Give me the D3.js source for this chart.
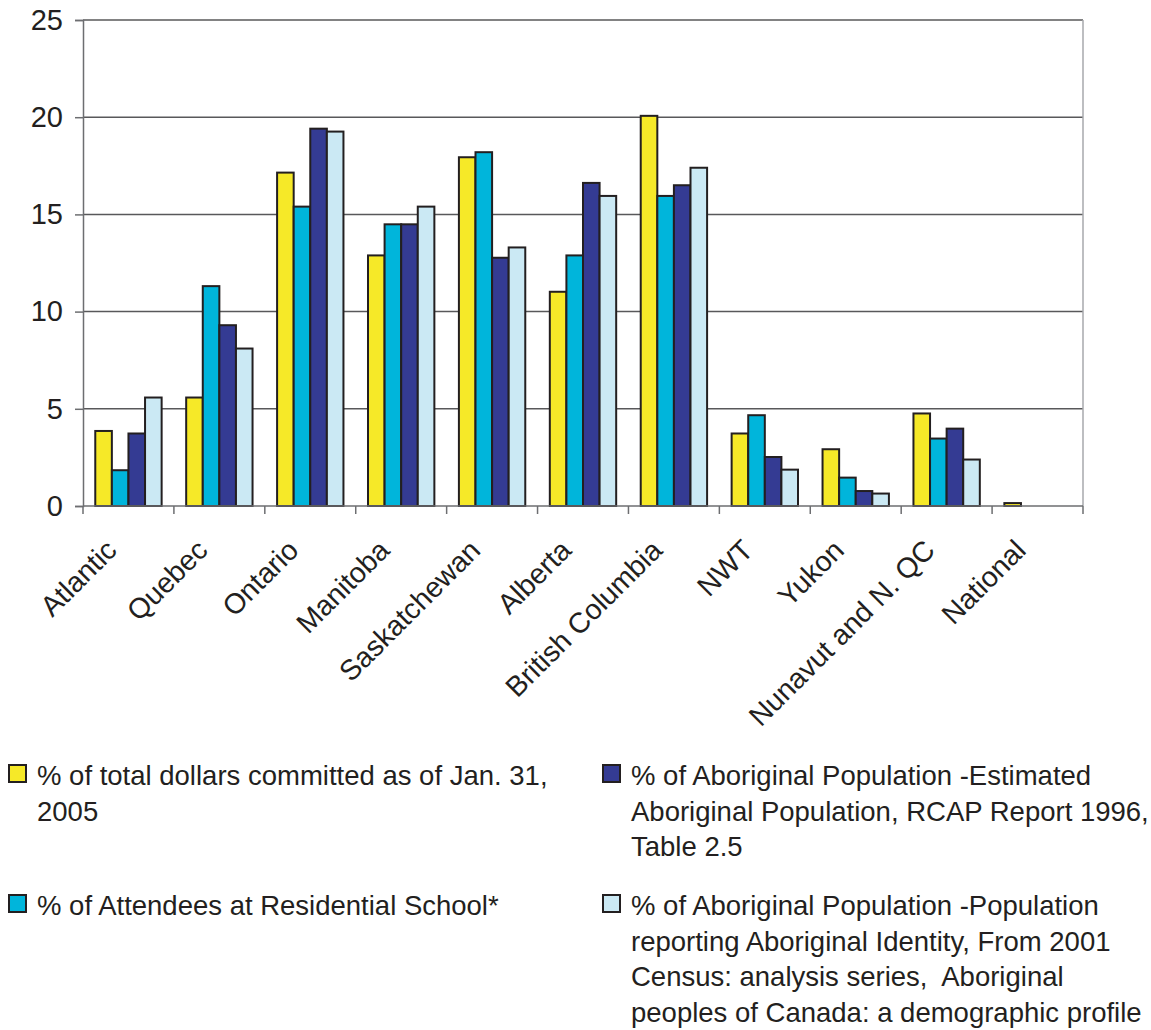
<!DOCTYPE html>
<html>
<head>
<meta charset="utf-8">
<script src="https://cdn.jsdelivr.net/npm/d3@7"></script>
<style>
  body { margin: 0; background: #fff; }
  text { font-family: "Liberation Sans", Arial, sans-serif; fill: #231f20; }
</style>
</head>
<body>
<div id="chart"></div>
<script>
// regions along the x axis
var categories = ["Atlantic", "Quebec", "Ontario", "Manitoba", "Saskatchewan", "Alberta",
    "British Columbia", "NWT", "Yukon", "Nunavut and N. QC", "National"];

// series values (percent)
var dollarsCommitted = [3.86, 5.58, 17.15, 12.89, 17.94, 11.02, 20.07, 3.73, 2.92, 4.76, 0.15];
var schoolAttendees  = [1.84, 11.31, 15.40, 14.49, 18.2, 12.89, 15.95, 4.67, 1.46, 3.47, 0];
var rcapPopulation   = [3.73, 9.30, 19.41, 14.49, 12.77, 16.62, 16.5, 2.52, 0.77, 3.98, 0];
var censusPopulation = [5.58, 8.10, 19.26, 15.40, 13.3, 15.95, 17.4, 1.87, 0.64, 2.39, 0];

var yTicks = [0, 5, 10, 15, 20, 25];

// legend text, split in lines as in the original
var legendDollars = ["% of total dollars committed as of Jan. 31,", "2005"];
var legendAttendees = ["% of Attendees at Residential School*"];
var legendRcap = ["% of Aboriginal Population -Estimated", "Aboriginal Population, RCAP Report 1996,", "Table 2.5"];
var legendCensus = ["% of Aboriginal Population -Population", "reporting Aboriginal Identity, From 2001",
    "Census: analysis series,  Aboriginal", "peoples of Canada: a demographic profile"];

var colors = ["#f6e928", "#00b5db", "#343b93", "#cbe9f4"];

var series = [dollarsCommitted, schoolAttendees, rcapPopulation, censusPopulation];

var width = 1151, height = 1030;
var plot = {left: 83, right: 1083, top: 20, bottom: 506};

var svg = d3.select("#chart").append("svg")
    .attr("width", width)
    .attr("height", height);

var x0 = d3.scaleBand()
    .domain(categories)
    .range([plot.left, plot.right]);

var groupWidth = x0.bandwidth() * 0.73;
var x1 = d3.scaleBand()
    .domain(d3.range(series.length))
    .range([0, groupWidth]);

var yScale = d3.scaleLinear()
    .domain([0, 25])
    .range([plot.bottom, plot.top]);

// gridlines
svg.append("g").selectAll("line")
    .data(yTicks.filter(d => d > 0))
    .enter().append("line")
    .attr("x1", plot.left).attr("x2", plot.right)
    .attr("y1", d => yScale(d)).attr("y2", d => yScale(d))
    .style("stroke", "#58585a")
    .style("stroke-width", 1.5);

// right border of the plot
svg.append("line")
    .attr("x1", plot.right).attr("x2", plot.right)
    .attr("y1", plot.top).attr("y2", plot.bottom)
    .style("stroke", "#a7a9ac").style("stroke-width", 1.5);

// bars
var flat = [];
categories.forEach(function(c, i){
    series.forEach(function(s, j){
        if (s[i] > 0) flat.push({cat: c, s: j, v: s[i]});
    });
});

svg.append("g").selectAll("rect")
    .data(flat)
    .enter().append("rect")
    .attr("x", d => x0(d.cat) + (x0.bandwidth() - groupWidth) / 2 + x1(d.s))
    .attr("y", d => yScale(d.v))
    .attr("width", x1.bandwidth())
    .attr("height", d => yScale(0) - yScale(d.v))
    .style("fill", d => colors[d.s])
    .style("stroke", "#231f20")
    .style("stroke-width", 2);

// y axis
var yAxis = svg.append("g")
    .attr("transform", "translate(" + plot.left + ",0)")
    .call(d3.axisLeft(yScale).tickValues(yTicks).tickSize(8).tickPadding(12));
yAxis.select(".domain").style("stroke", "#6d6e71").style("stroke-width", 1.5);
yAxis.selectAll(".tick line").style("stroke", "#6d6e71").style("stroke-width", 1.5);
yAxis.selectAll(".tick text")
    .style("font-size", "29px")
    .style("font-family", "Liberation Sans, Arial, sans-serif")
    .attr("fill", "#231f20");

// x axis line and ticks between categories
var xAxisG = svg.append("g");
xAxisG.append("line")
    .attr("x1", plot.left).attr("x2", plot.right)
    .attr("y1", plot.bottom).attr("y2", plot.bottom)
    .style("stroke", "#6d6e71").style("stroke-width", 1.5);
xAxisG.selectAll(".xtick")
    .data(categories.concat(["end"]))
    .enter().append("line")
    .attr("class", "xtick")
    .attr("x1", (d, i) => i < categories.length ? x0(d) : plot.right)
    .attr("x2", (d, i) => i < categories.length ? x0(d) : plot.right)
    .attr("y1", plot.bottom).attr("y2", plot.bottom + 8)
    .style("stroke", "#6d6e71").style("stroke-width", 1.5);

// rotated category labels
xAxisG.selectAll(".xlabel")
    .data(categories)
    .enter().append("text")
    .attr("class", "xlabel")
    .attr("text-anchor", "end")
    .style("font-size", "28.5px")
    .attr("transform", d => "translate(" + (x0(d) + x0.bandwidth() / 2 - 10) + "," + (plot.bottom + 46) + ") rotate(-45)")
    .text(d => d);

// legend
var legendItems = [
    {lines: legendDollars, color: colors[0], x: 9, y: 765},
    {lines: legendAttendees, color: colors[1], x: 9, y: 895},
    {lines: legendRcap, color: colors[2], x: 603, y: 765},
    {lines: legendCensus, color: colors[3], x: 603, y: 895}
];

var legend = svg.append("g").selectAll("g")
    .data(legendItems)
    .enter().append("g")
    .attr("transform", d => "translate(" + d.x + "," + d.y + ")");

legend.append("rect")
    .attr("x", 0).attr("y", 0)
    .attr("width", 17).attr("height", 17)
    .style("fill", d => d.color)
    .style("stroke", "#231f20")
    .style("stroke-width", 2);

legend.each(function(d){
    var t = d3.select(this).append("text")
        .attr("x", 28)
        .attr("y", 20)
        .style("font-size", "27.5px")
        .attr("xml:space", "preserve");
    d.lines.forEach(function(line, i){
        t.append("tspan")
            .attr("x", 28)
            .attr("dy", i == 0 ? 0 : 35.7)
            .text(line);
    });
});
</script>
</body>
</html>
